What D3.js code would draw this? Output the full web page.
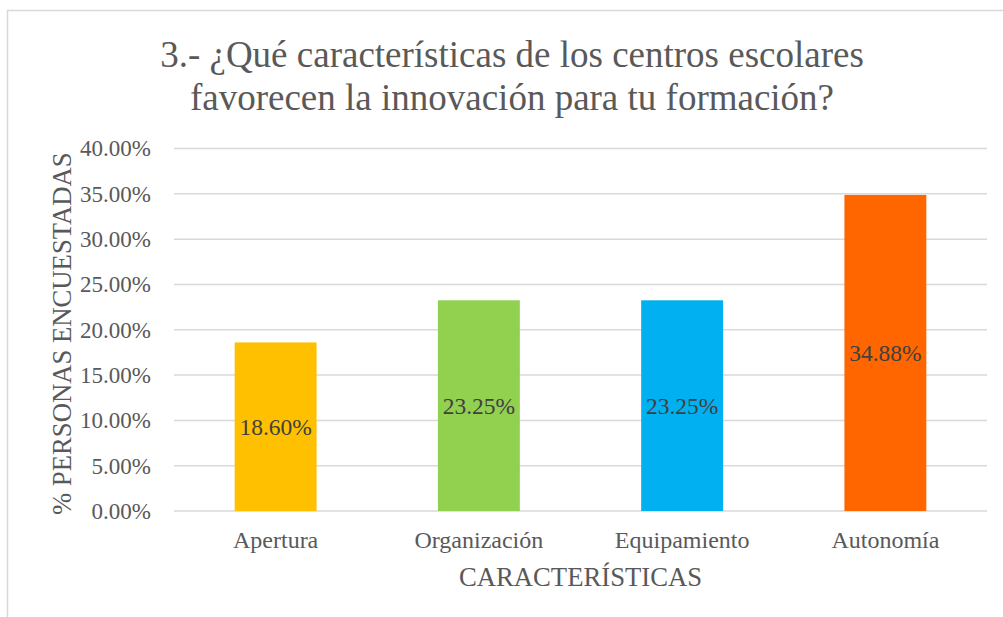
<!DOCTYPE html>
<html>
<head>
<meta charset="utf-8">
<script src="https://cdn.jsdelivr.net/npm/d3@7"></script>
<style>
  body { margin: 0; background: #fff; }
  svg { display: block; }
</style>
</head>
<body>
<div id="chart"></div>
<script>
const categories = ['Apertura', 'Organización', 'Equipamiento', 'Autonomía'];
const values = [0.1860, 0.2325, 0.2325, 0.3488];
const barColors = ['#FFC000', '#92D050', '#00B0F0', '#FF6600'];
const yTicks = [0, 0.05, 0.10, 0.15, 0.20, 0.25, 0.30, 0.35, 0.40];
const titleLines = ['3.- ¿Qué características de los centros escolares', 'favorecen la innovación para tu formación?'];

const FONT = '"Liberation Serif", "Times New Roman", serif';
const width = 1003;
const height = 617;
const plot = { left: 174, right: 987, top: 148.5, bottom: 511 };

const svg = d3.select('#chart').append('svg')
  .attr('width', width)
  .attr('height', height)
  .style('font-family', FONT);

// chart frame
svg.append('rect')
  .attr('x', 7.5)
  .attr('y', 10.5)
  .attr('width', 1100)
  .attr('height', 700)
  .attr('fill', '#fff')
  .attr('stroke', '#d9d9d9')
  .attr('stroke-width', 1.5);

const x = d3.scaleBand()
  .domain(categories)
  .range([plot.left, plot.right])
  .paddingInner(0.597)
  .paddingOuter(0.2985);

const y = d3.scaleLinear()
  .domain([0, 0.40])
  .range([plot.bottom, plot.top]);

// gridlines
svg.append('g')
  .selectAll('line')
  .data(yTicks)
  .join('line')
  .attr('x1', plot.left)
  .attr('x2', plot.right)
  .attr('y1', (d) => y(d))
  .attr('y2', (d) => y(d))
  .attr('stroke', '#d9d9d9')
  .attr('stroke-width', 1.5);

// y axis labels
const yAxis = svg.append('g')
  .attr('transform', `translate(${plot.left},0)`)
  .call(d3.axisLeft(y)
    .tickValues(yTicks)
    .tickFormat((d) => `${(d * 100).toFixed(2)}%`)
    .tickSize(0)
    .tickPadding(23));
yAxis.select('.domain').remove();
yAxis.selectAll('text')
  .style('font-family', FONT)
  .style('font-size', '23px')
  .attr('fill', '#595959');

// bars
svg.append('g')
  .selectAll('rect')
  .data(values)
  .join('rect')
  .attr('x', (d, i) => x(categories[i]))
  .attr('y', (d) => y(d))
  .attr('width', x.bandwidth())
  .attr('height', (d) => y(0) - y(d))
  .attr('fill', (d, i) => barColors[i]);

// data labels
svg.append('g')
  .selectAll('text')
  .data(values)
  .join('text')
  .attr('x', (d, i) => x(categories[i]) + x.bandwidth() / 2)
  .attr('y', (d) => (y(d) + y(0)) / 2)
  .attr('dy', '0.35em')
  .attr('text-anchor', 'middle')
  .style('font-family', FONT)
  .style('font-size', '23.5px')
  .attr('fill', '#404040')
  .text((d) => `${(d * 100).toFixed(2)}%`);

// x axis labels
const xAxis = svg.append('g')
  .attr('transform', `translate(0,${plot.bottom})`)
  .call(d3.axisBottom(x).tickSize(0).tickPadding(20));
xAxis.select('.domain').remove();
xAxis.selectAll('text')
  .style('font-family', FONT)
  .style('font-size', '24px')
  .attr('fill', '#595959');

// axis titles
svg.append('text')
  .attr('x', (plot.left + plot.right) / 2)
  .attr('y', 586)
  .attr('text-anchor', 'middle')
  .style('font-family', FONT)
  .style('font-size', '26.7px')
  .attr('fill', '#595959')
  .text('CARACTERÍSTICAS');

svg.append('text')
  .attr('transform', `translate(71,${(plot.top + plot.bottom) / 2 + 4}) rotate(-90)`)
  .attr('text-anchor', 'middle')
  .style('font-family', FONT)
  .style('font-size', '26.7px')
  .attr('fill', '#595959')
  .text('% PERSONAS ENCUESTADAS');

// title
svg.append('text')
  .attr('x', 512)
  .attr('y', 67)
  .attr('text-anchor', 'middle')
  .style('font-family', FONT)
  .style('font-size', '37px')
  .attr('fill', '#595959')
  .selectAll('tspan')
  .data(titleLines)
  .join('tspan')
  .attr('x', 512)
  .attr('dy', (d, i) => (i === 0 ? 0 : 43))
  .text((d) => d);
</script>
</body>
</html>
